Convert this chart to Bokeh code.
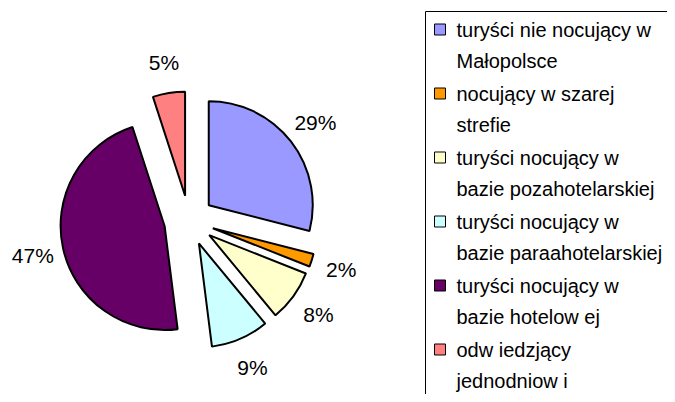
import math
from bokeh.plotting import figure
from bokeh.models import Range1d, ColumnDataSource
from bokeh.core.properties import value
from bokeh.embed import file_html
from bokeh.resources import INLINE

# ---- data ----
categories = [
    "turyści nie nocujący w Małopolsce",
    "nocujący w szarej strefie",
    "turyści nocujący w bazie pozahotelarskiej",
    "turyści nocujący w bazie paraahotelarskiej",
    "turyści nocujący w bazie hotelowej",
    "odwiedzjący jednodniowi",
]
legend_line1 = ["turyści nie nocujący w", "nocujący w  szarej", "turyści nocujący w",
                "turyści nocujący w", "turyści nocujący w", "odw iedzjący"]
legend_line2 = ["Małopolsce", "strefie", "bazie pozahotelarskiej",
                "bazie paraahotelarskiej", "bazie hotelow ej", "jednodniow i"]
shares = [29, 2, 8, 9, 47, 5]
pct_labels = ["29%", "2%", "8%", "9%", "47%", "5%"]
colors = ["#9999FF", "#FF9900", "#FFFFCC", "#CCFFFF", "#660066", "#FF8080"]

# ---- layout (data units == screen pixels, y up) ----
W, H = 667, 394
PAGE_H = 402
cx, cy = 188.5, PAGE_H - 220
R = 104
EXPLODE = 25
LABEL_R = 160
FONT = "Liberation Sans"
FS = "21px"
LEG_FS = "20px"

total = float(sum(shares))
xs, ys, starts, ends, lx, ly = [], [], [], [], [], []
cum = 0.0
for v in shares:
    t1 = cum / total * 360.0
    cum += v
    t2 = cum / total * 360.0
    mid = math.radians((t1 + t2) / 2.0)
    xs.append(cx + EXPLODE * math.sin(mid))
    ys.append(cy + EXPLODE * math.cos(mid))
    starts.append(math.radians(90 - t2))
    ends.append(math.radians(90 - t1))
    lx.append(cx + LABEL_R * math.sin(mid))
    ly.append(cy + LABEL_R * math.cos(mid))

src = ColumnDataSource(dict(x=xs, y=ys, start=starts, end=ends, color=colors,
                            lx=lx, ly=ly, lab=pct_labels))

p = figure(width=W, height=H, output_backend="svg", toolbar_location=None,
           x_range=Range1d(0, W), y_range=Range1d(PAGE_H - H, PAGE_H),
           min_border=0, tools="")
p.xaxis.visible = False
p.yaxis.visible = False
p.grid.visible = False
p.outline_line_color = None
p.background_fill_color = "white"
p.border_fill_color = "white"

p.wedge(x="x", y="y", radius=R, start_angle="start", end_angle="end",
        fill_color="color", line_color="black", line_width=2, source=src)

p.text(x="lx", y="ly", text="lab", source=src, text_align="center",
       text_baseline="middle", text_font=value(FONT), text_font_size=FS,
       text_color="black")

# ---- legend ----
LEG_TOP = 11
p.quad(left=[425], right=[720], top=[PAGE_H - LEG_TOP], bottom=[-20],
       fill_color=None, line_color="black", line_width=1)

first_y = 29
step = 64
gap = 31
sq_y = [PAGE_H - (first_y + step * i) for i in range(len(shares))]
l2_y = [PAGE_H - (first_y + step * i + gap) for i in range(len(shares))]
p.rect(x=[439.5] * len(shares), y=sq_y, width=11, height=11,
       fill_color=colors, line_color="black", line_width=1)
p.text(x=[456] * len(shares), y=sq_y, text=legend_line1, text_align="left",
       text_baseline="middle", text_font=value(FONT), text_font_size=LEG_FS,
       text_color="black")
p.text(x=[456] * len(shares), y=l2_y, text=legend_line2, text_align="left",
       text_baseline="middle", text_font=value(FONT), text_font_size=LEG_FS,
       text_color="black")

open("out.html", "w").write(file_html(p, INLINE))
